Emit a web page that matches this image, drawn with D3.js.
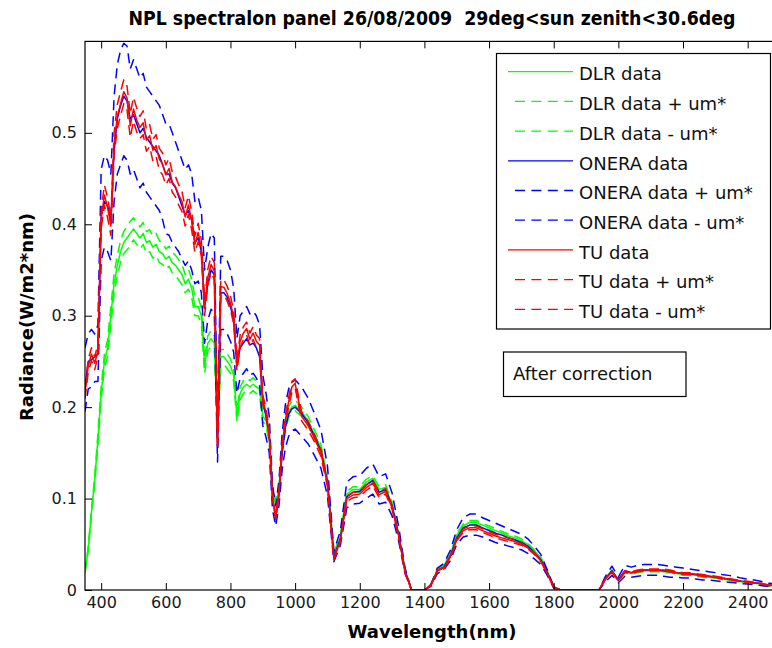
<!DOCTYPE html>
<html>
<head>
<meta charset="utf-8">
<script src="https://cdn.jsdelivr.net/npm/d3@7"></script>
<style>
  body { margin: 0; background: #fff; }
  svg { display: block; }
  text { font-family: "DejaVu Sans", "Noto Sans", sans-serif; }
</style>
</head>
<body>
<svg id="chart" width="772" height="648"></svg>
<script>
// Wavelength grid (nm)
const wavelength = [
  350,360,370,380,390,400,410,420,430,440,
  450,460,470,480,490,500,510,520,530,540,
  550,560,570,580,590,600,610,620,630,640,
  650,660,670,680,690,700,710,720,730,740,
  750,760,770,780,790,800,810,820,830,840,
  850,860,870,880,890,900,910,920,930,940,
  950,960,970,980,990,1000,
  1020,1040,1060,1080,1100,1120,1140,1160,1180,1200,
  1220,1240,1260,1280,1300,1320,1340,1360,1380,1400,
  1420,1440,1460,1480,1500,1520,1540,1560,1580,1600,
  1620,1640,1660,1680,1700,1720,1740,1760,1780,1800,
  1820,1840,1860,1880,1900,1920,1940,1960,1980,2000,
  2020,2040,2060,2080,2100,2120,2140,2160,2180,2200,
  2220,2240,2260,2280,2300,2320,2340,2360,2380,2400,
  2420,2440,2460,2480,2500
];

// Radiance, W/(m2*nm)
const dlrData = [
  .02,.045,.085,.12,.165,.215,.25,.265,.3,.335,
  .355,.37,.38,.385,.39,.395,.39,.385,.39,.38,
  .382,.375,.378,.37,.368,.362,.365,.358,.355,.35,
  .345,.335,.34,.33,.31,.31,.3,.245,.27,.275,
  .27,.175,.255,.255,.25,.245,.235,.19,.215,.222,
  .225,.222,.225,.222,.22,.19,.185,.165,.11,.095,
  .11,.155,.18,.195,.2,.202,
  .195,.185,.17,.155,.12,.04,.058,.105,.11,.11,
  .118,.122,.11,.112,.093,.062,.022,0,0,0,
  .006,.022,.027,.038,.06,.07,.074,.074,.071,.068,
  .065,.062,.059,.057,.054,.05,.043,.035,.02,.004,
  0,0,0,0,0,0,0,.013,.021,.011,
  .02,.018,.02,.021,.021,.021,.02,.02,.018,.017,
  .017,.016,.015,.014,.0135,.012,.011,.01,.009,.0085,
  .0075,.0065,.005,.0045,.004
];
const dlrPlus = [
  .021,.047,.088,.124,.171,.222,.258,.274,.31,.346,
  .366,.382,.392,.398,.403,.407,.402,.397,.402,.392,
  .394,.387,.39,.382,.38,.373,.376,.369,.366,.361,
  .356,.345,.351,.34,.32,.32,.309,.253,.278,.284,
  .278,.18,.263,.263,.258,.253,.242,.196,.222,.229,
  .232,.229,.232,.229,.227,.196,.19,.17,.113,.098,
  .113,.16,.186,.201,.206,.208,
  .2,.19,.175,.159,.123,.041,.06,.108,.113,.113,
  .121,.125,.113,.115,.096,.064,.023,0,0,0,
  .006,.023,.028,.039,.062,.072,.076,.076,.073,.07,
  .067,.064,.061,.059,.056,.051,.044,.036,.021,.004,
  0,0,0,0,0,0,0,.013,.022,.011,
  .021,.019,.021,.022,.022,.022,.021,.021,.019,.018,
  .018,.017,.016,.015,.014,.0125,.0115,.0105,.0095,.009,
  .008,.007,.0055,.005,.0045
];
const dlrMinus = [
  .019,.043,.082,.116,.159,.208,.242,.256,.29,.324,
  .344,.358,.368,.372,.377,.383,.378,.373,.378,.368,
  .37,.363,.366,.358,.356,.351,.354,.347,.344,.339,
  .334,.325,.329,.32,.3,.3,.291,.237,.262,.266,
  .262,.17,.247,.247,.242,.237,.228,.184,.208,.215,
  .218,.215,.218,.215,.213,.184,.18,.16,.107,.092,
  .107,.15,.174,.189,.194,.196,
  .19,.18,.165,.151,.117,.039,.056,.102,.107,.107,
  .115,.119,.107,.109,.09,.06,.021,0,0,0,
  .006,.021,.026,.037,.058,.068,.072,.072,.069,.066,
  .063,.06,.057,.055,.052,.049,.042,.034,.019,.004,
  0,0,0,0,0,0,0,.013,.02,.011,
  .019,.017,.019,.02,.02,.02,.019,.019,.017,.016,
  .016,.015,.014,.013,.013,.0115,.0105,.0095,.0085,.008,
  .007,.006,.0045,.004,.0035
];
const oneraData = [
  .22,.25,.252,.255,.258,.41,.425,.42,.405,.48,
  .515,.53,.54,.535,.515,.52,.51,.5,.505,.495,
  .49,.485,.48,.475,.465,.455,.455,.445,.44,.43,
  .42,.41,.415,.405,.38,.385,.37,.31,.335,.35,
  .345,.16,.325,.325,.32,.31,.295,.245,.265,.27,
  .275,.268,.27,.265,.255,.205,.19,.17,.1,.08,
  .105,.15,.178,.192,.198,.2,
  .193,.183,.168,.152,.118,.036,.056,.102,.107,.108,
  .115,.12,.107,.11,.092,.061,.021,0,0,0,
  .005,.021,.025,.037,.057,.068,.071,.071,.068,.065,
  .062,.06,.057,.055,.052,.048,.041,.033,.019,.003,
  0,0,0,0,0,0,0,.012,.021,.011,
  .021,.019,.021,.022,.022,.022,.021,.02,.019,.018,
  .018,.017,.016,.015,.014,.013,.012,.011,.0095,.009,
  .008,.007,.0055,.005,.004
];
const oneraPlus = [
  .265,.28,.285,.28,.29,.46,.475,.47,.455,.54,
  .575,.59,.598,.595,.57,.58,.57,.56,.565,.55,
  .545,.54,.535,.53,.52,.51,.51,.5,.49,.48,
  .47,.46,.465,.455,.425,.43,.415,.35,.375,.39,
  .385,.18,.365,.365,.36,.35,.33,.275,.3,.305,
  .31,.302,.305,.3,.29,.235,.215,.19,.115,.092,
  .12,.172,.203,.22,.227,.23,
  .222,.21,.193,.175,.136,.042,.065,.118,.124,.125,
  .133,.138,.124,.127,.106,.07,.024,0,0,0,
  .006,.024,.029,.043,.066,.079,.083,.083,.079,.076,
  .073,.07,.067,.064,.061,.056,.048,.039,.022,.004,
  0,0,0,0,0,0,0,.015,.026,.014,
  .027,.025,.027,.028,.028,.028,.027,.026,.025,.024,
  .023,.022,.021,.02,.019,.017,.016,.015,.013,.012,
  .011,.0095,.0075,.007,.006
];
const oneraMinus = [
  .195,.22,.222,.228,.228,.36,.375,.37,.36,.425,
  .455,.465,.475,.47,.455,.46,.45,.44,.445,.435,
  .43,.425,.42,.415,.405,.39,.388,.38,.375,.37,
  .362,.355,.36,.35,.335,.338,.325,.27,.295,.307,
  .303,.14,.285,.285,.28,.272,.26,.215,.232,.237,
  .242,.235,.237,.232,.224,.18,.167,.15,.088,.07,
  .092,.132,.156,.168,.174,.176,
  .168,.16,.147,.133,.103,.031,.049,.09,.094,.095,
  .1,.105,.094,.096,.081,.054,.018,0,0,0,
  .004,.018,.022,.032,.05,.058,.06,.06,.058,.055,
  .052,.05,.048,.046,.044,.04,.034,.028,.016,.002,
  0,0,0,0,0,0,0,.009,.016,.008,
  .015,.014,.015,.016,.016,.016,.015,.014,.014,.013,
  .013,.012,.011,.011,.01,.009,.0085,.008,.007,.0065,
  .006,.005,.004,.0035,.003
];
const tuData = [
  .215,.245,.258,.248,.262,.405,.432,.418,.398,.488,
  .518,.532,.545,.538,.508,.526,.514,.506,.511,.492,
  .497,.481,.486,.471,.466,.454,.461,.446,.441,.432,
  .425,.408,.421,.404,.378,.391,.374,.308,.342,.356,
  .349,.158,.332,.331,.324,.314,.298,.246,.272,.281,
  .286,.274,.281,.272,.268,.208,.194,.172,.102,.079,
  .106,.158,.186,.206,.222,.226,
  .19,.18,.166,.15,.116,.034,.054,.1,.104,.105,
  .112,.117,.104,.108,.09,.06,.02,0,0,0,
  .005,.021,.024,.036,.055,.065,.068,.068,.065,.062,
  .059,.057,.055,.053,.05,.046,.04,.032,.018,.003,
  0,0,0,0,0,0,0,.012,.02,.01,
  .02,.019,.021,.022,.022,.022,.022,.021,.019,.018,
  .018,.017,.016,.015,.0145,.013,.012,.011,.0095,.009,
  .008,.007,.0055,.005,.004
];
const tuPlus = [
  .221,.252,.265,.255,.269,.415,.443,.429,.408,.5,
  .531,.545,.558,.551,.521,.539,.527,.518,.524,.504,
  .509,.493,.498,.483,.478,.465,.472,.457,.452,.443,
  .436,.418,.431,.414,.387,.401,.383,.316,.351,.365,
  .358,.162,.34,.339,.332,.322,.305,.252,.279,.288,
  .293,.281,.288,.279,.275,.213,.199,.176,.105,.081,
  .109,.162,.191,.211,.228,.231,
  .195,.185,.17,.154,.119,.035,.055,.103,.107,.108,
  .115,.12,.107,.111,.092,.062,.021,0,0,0,
  .005,.022,.025,.037,.056,.067,.07,.07,.067,.064,
  .061,.059,.057,.055,.051,.047,.041,.033,.018,.003,
  0,0,0,0,0,0,0,.012,.021,.01,
  .021,.02,.022,.023,.023,.023,.023,.022,.02,.019,
  .019,.018,.017,.016,.015,.014,.0125,.0115,.01,.0095,
  .0085,.0075,.006,.0055,.0045
];
const tuMinus = [
  .209,.238,.251,.241,.255,.395,.421,.407,.388,.476,
  .505,.519,.532,.525,.495,.513,.501,.494,.498,.48,
  .485,.469,.474,.459,.454,.443,.45,.435,.43,.421,
  .414,.398,.411,.394,.369,.381,.365,.3,.333,.347,
  .34,.154,.324,.323,.316,.306,.291,.24,.265,.274,
  .279,.267,.274,.265,.261,.203,.189,.168,.099,.077,
  .103,.154,.181,.201,.216,.221,
  .185,.175,.162,.146,.113,.033,.053,.097,.101,.102,
  .109,.114,.101,.105,.088,.058,.019,0,0,0,
  .005,.02,.023,.035,.054,.063,.066,.066,.063,.06,
  .057,.055,.053,.051,.049,.045,.039,.031,.018,.003,
  0,0,0,0,0,0,0,.012,.019,.01,
  .019,.018,.02,.021,.021,.021,.021,.02,.018,.017,
  .017,.016,.015,.014,.014,.012,.0115,.0105,.009,.0085,
  .0075,.0065,.005,.0045,.0035
];

const seriesNames = [
  "DLR data", "DLR data + um*", "DLR data - um*",
  "ONERA data", "ONERA data + um*", "ONERA data - um*",
  "TU data", "TU data + um*", "TU data - um*"
];
const xTicks = [400, 600, 800, 1000, 1200, 1400, 1600, 1800, 2000, 2200, 2400];
const yTicks = [0, 0.1, 0.2, 0.3, 0.4, 0.5];
const titleText = "NPL spectralon panel 26/08/2009  29deg<sun zenith<30.6deg";
const xLabel = "Wavelength(nm)";
const yLabel = "Radiance(W/m2*nm)";
const noteText = "After correction";

// Series styling, in drawing order
const series = [
  { name: seriesNames[0], values: dlrData,    color: "#00ff00", dashed: false },
  { name: seriesNames[1], values: dlrPlus,    color: "#00ff00", dashed: true },
  { name: seriesNames[2], values: dlrMinus,   color: "#00ff00", dashed: true },
  { name: seriesNames[3], values: oneraData,  color: "#0000ff", dashed: false },
  { name: seriesNames[4], values: oneraPlus,  color: "#0000ff", dashed: true },
  { name: seriesNames[5], values: oneraMinus, color: "#0000ff", dashed: true },
  { name: seriesNames[6], values: tuData,     color: "#ff0000", dashed: false },
  { name: seriesNames[7], values: tuPlus,     color: "#ff0000", dashed: true },
  { name: seriesNames[8], values: tuMinus,    color: "#ff0000", dashed: true }
];

const svg = d3.select("#chart");
svg.append("rect").attr("width", 772).attr("height", 648).attr("fill", "#fff");

const plot = { left: 85, right: 780, top: 41.4, bottom: 590 };
const x = d3.scaleLinear().domain([350, 2500]).range([plot.left, plot.right]);
const y = d3.scaleLinear().domain([0, 0.6]).range([plot.bottom, plot.top]);

svg.append("defs").append("clipPath").attr("id", "plotClip")
  .append("rect")
  .attr("x", plot.left).attr("y", plot.top)
  .attr("width", plot.right - plot.left).attr("height", plot.bottom - plot.top);

// Spectra
const line = d3.line()
  .x((d, i) => x(wavelength[i]))
  .y(d => y(d));

const lines = svg.append("g").attr("clip-path", "url(#plotClip)");
series.forEach(s => {
  lines.append("path")
    .datum(s.values)
    .attr("d", line)
    .attr("fill", "none")
    .attr("stroke", s.color)
    .attr("stroke-width", 1.5)
    .attr("stroke-linejoin", "round")
    .attr("stroke-dasharray", s.dashed ? "10,6" : null);
});

// Axes: inward ticks on all four sides, box frame
const tickLen = 7;
const axisColor = "#000";
const tickFont = "16px";

const gx = svg.append("g").attr("transform", `translate(0,${plot.bottom})`)
  .call(d3.axisBottom(x).tickValues(xTicks).tickSize(-tickLen).tickPadding(7).tickFormat(d3.format("d")));
const gxTop = svg.append("g").attr("transform", `translate(0,${plot.top})`)
  .call(d3.axisTop(x).tickValues(xTicks).tickSize(-tickLen).tickFormat(""));
const gy = svg.append("g").attr("transform", `translate(${plot.left},0)`)
  .call(d3.axisLeft(y).tickValues(yTicks).tickSize(-tickLen).tickPadding(8)
    .tickFormat(d => d === 0 ? "0" : d3.format(".1f")(d)));
const gyRight = svg.append("g").attr("transform", `translate(${plot.right},0)`)
  .call(d3.axisRight(y).tickValues(yTicks).tickSize(-tickLen).tickFormat(""));

[gx, gxTop, gy, gyRight].forEach(g => {
  g.select(".domain").remove();
  g.selectAll(".tick line").attr("stroke", axisColor).attr("stroke-width", 1);
  g.selectAll(".tick text")
    .attr("fill", "#1a1a1a")
    .style("font-size", tickFont)
    .style("font-family", "'DejaVu Sans', sans-serif");
});

svg.append("rect")
  .attr("x", plot.left).attr("y", plot.top)
  .attr("width", plot.right - plot.left).attr("height", plot.bottom - plot.top)
  .attr("fill", "none").attr("stroke", axisColor).attr("stroke-width", 1.2);

// Title and axis labels
svg.append("text")
  .attr("x", 432).attr("y", 25)
  .attr("text-anchor", "middle")
  .attr("xml:space", "preserve")
  .style("white-space", "pre")
  .attr("textLength", 607).attr("lengthAdjust", "spacingAndGlyphs")
  .style("font-family", "'Liberation Sans Narrow', 'DejaVu Sans Condensed', 'DejaVu Sans', sans-serif")
  .style("font-weight", "bold").style("font-size", "19px")
  .attr("fill", "#000")
  .text(titleText);

svg.append("text")
  .attr("x", 432).attr("y", 638)
  .attr("text-anchor", "middle")
  .style("font-weight", "bold").style("font-size", "18px")
  .attr("fill", "#000")
  .text(xLabel);

svg.append("text")
  .attr("transform", "translate(33,317) rotate(-90)")
  .attr("text-anchor", "middle")
  .style("font-weight", "bold").style("font-size", "18px")
  .attr("fill", "#000")
  .text(yLabel);

// Legend
const legend = svg.append("g");
legend.append("rect")
  .attr("x", 496.5).attr("y", 53.5).attr("width", 274).attr("height", 275.5)
  .attr("fill", "#fff").attr("stroke", "#000").attr("stroke-width", 1.2);
series.forEach((s, i) => {
  const ry = 71.7 + 29.7 * i;
  legend.append("line")
    .attr("x1", s.dashed ? 515 : 508).attr("x2", 573)
    .attr("y1", ry).attr("y2", ry)
    .attr("stroke", s.color).attr("stroke-width", 1.3)
    .attr("stroke-dasharray", s.dashed ? "10,6.4" : null);
  legend.append("text")
    .attr("x", 579).attr("y", ry + 8.7)
    .style("font-size", "18px")
    .attr("fill", "#111")
    .text(s.name);
});

// Annotation box
svg.append("rect")
  .attr("x", 503.5).attr("y", 352).attr("width", 182.5).attr("height", 44.5)
  .attr("fill", "#fff").attr("stroke", "#000").attr("stroke-width", 1.2);
svg.append("text")
  .attr("x", 513).attr("y", 380)
  .style("font-size", "18px")
  .attr("fill", "#111")
  .text(noteText);
</script>
</body>
</html>
